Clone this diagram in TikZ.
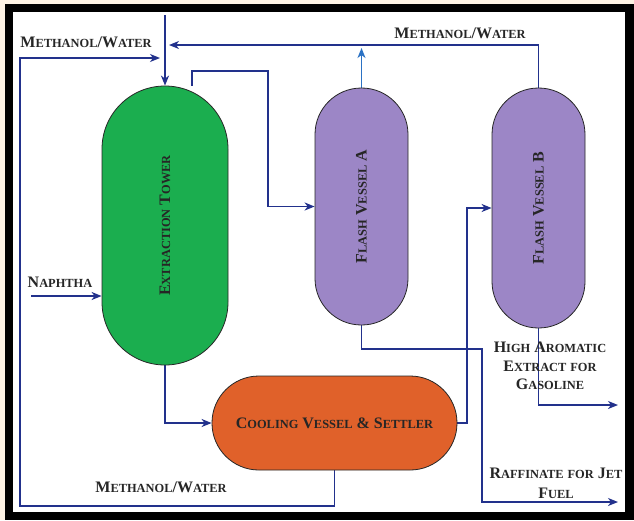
\documentclass[tikz,border=0pt]{standalone}
\usepackage{fontspec}
\setmainfont{Liberation Serif}
\usetikzlibrary{arrows.meta,backgrounds}
\definecolor{navy}{HTML}{22318C}
\definecolor{lightblue}{HTML}{2B72C4}
\definecolor{tgreen}{HTML}{1BAE4F}
\definecolor{vpurple}{HTML}{9C86C6}
\definecolor{vorange}{HTML}{E0612A}
\definecolor{beige}{HTML}{FDF2E4}
\definecolor{txt}{HTML}{262626}
\newcommand\SC[2]{#1{\fontsize{12.4}{14}\selectfont #2}}
\tikzset{
  line/.style={draw=navy, line width=1.5pt},
  arr/.style={line, -{Stealth[length=10pt,width=8pt,inset=3pt]}},
  arrlight/.style={draw=lightblue, line width=1.5pt, -{Stealth[length=10pt,width=8pt,inset=3pt]}},
  vessel/.style={draw=black!85, line width=0.8pt, inner sep=0pt, text=txt, font=\bfseries\fontsize{16}{19}\selectfont},
  lab/.style={text=txt, inner sep=0pt, align=center, font=\bfseries\fontsize{16}{20}\selectfont},
}
\begin{document}
\begin{tikzpicture}[x=1pt,y=-1pt]
\useasboundingbox (0,0) rectangle (634,520);
% vessels
\node[vessel, fill=tgreen, minimum width=126pt, minimum height=279pt, rounded corners=62.9pt] (T) at (165,225.5)
  {\rotatebox{90}{\SC{E}{XTRACTION} \SC{T}{OWER}}};
\node[vessel, fill=vpurple, minimum width=93pt, minimum height=237pt, rounded corners=46.4pt] (A) at (361.5,206.5)
  {\rotatebox{90}{\SC{F}{LASH} \SC{V}{ESSEL} A}};
\node[vessel, fill=vpurple, minimum width=93pt, minimum height=240pt, rounded corners=46.4pt] (B) at (538.5,208)
  {\rotatebox{90}{\SC{F}{LASH} \SC{V}{ESSEL} B}};
\node[vessel, fill=vorange, minimum width=245pt, minimum height=94pt, rounded corners=46.9pt] (C) at (334.5,423)
  {\SC{C}{OOLING} \SC{V}{ESSEL} \& \SC{S}{ETTLER}};
% labels
\node[lab] (l1) at (86,42) {\SC{M}{ETHANOL}/\SC{W}{ATER}};
\node[lab] (l2) at (460,33) {\SC{M}{ETHANOL}/\SC{W}{ATER}};
\node[lab] (l3) at (161,487) {\SC{M}{ETHANOL}/\SC{W}{ATER}};
\node[lab] (l4) at (60,282) {\SC{N}{APHTHA}};
\node[lab, font=\bfseries\fontsize{16}{18.5}\selectfont] (l5) at (550,366) {\SC{H}{IGH} \SC{A}{ROMATIC}\\ \SC{E}{XTRACT} {\fontsize{12.4}{14}\selectfont FOR}\\ \SC{G}{ASOLINE}};
\node[lab] (l6) at (556,483) {\SC{R}{AFFINATE} {\fontsize{12.4}{14}\selectfont FOR} \SC{J}{ET}\\ \SC{F}{UEL}};
% coordinates
\coordinate (feedtop) at (165,15);
\coordinate (rtip) at (169,45);
\coordinate (vapA) at (361.5,48);
\coordinate (c1) at (268,71);
\coordinate (c2) at (467,208);
\coordinate (c3) at (482,349);
\coordinate (c4) at (618,502);
\coordinate (c5) at (618,405);
\coordinate (c6) at (20,506);
\coordinate (c7) at (160,58);
\coordinate (n1) at (31,296);
\begin{scope}[on background layer]
  \fill[beige] (0,0) rectangle (634,520);
  \fill[black] (5,4) rectangle (634,520);
  \fill[white] (13,12) rectangle (625,512);
  \draw[arr] (feedtop) -- (T.north);
  \draw[arr] (B.north) |- (rtip);
  \draw[arrlight] (A.north) -- (vapA);
  \draw[arr] ([xshift=27pt]T.north) |- (c1) |- (A.west);
  \draw[arr] (T.south) |- (C.west);
  \draw[arr] (C.east) -| (c2) -- (B.west);
  \draw[arr] (A.south) |- (c3) |- (c4);
  \draw[arr] (B.south) |- (c5);
  \draw[arr] (C.south) |- (c6) |- (c7);
  \draw[arr] (n1) -- (n1 -| T.west);
\end{scope}
\end{tikzpicture}
\end{document}
